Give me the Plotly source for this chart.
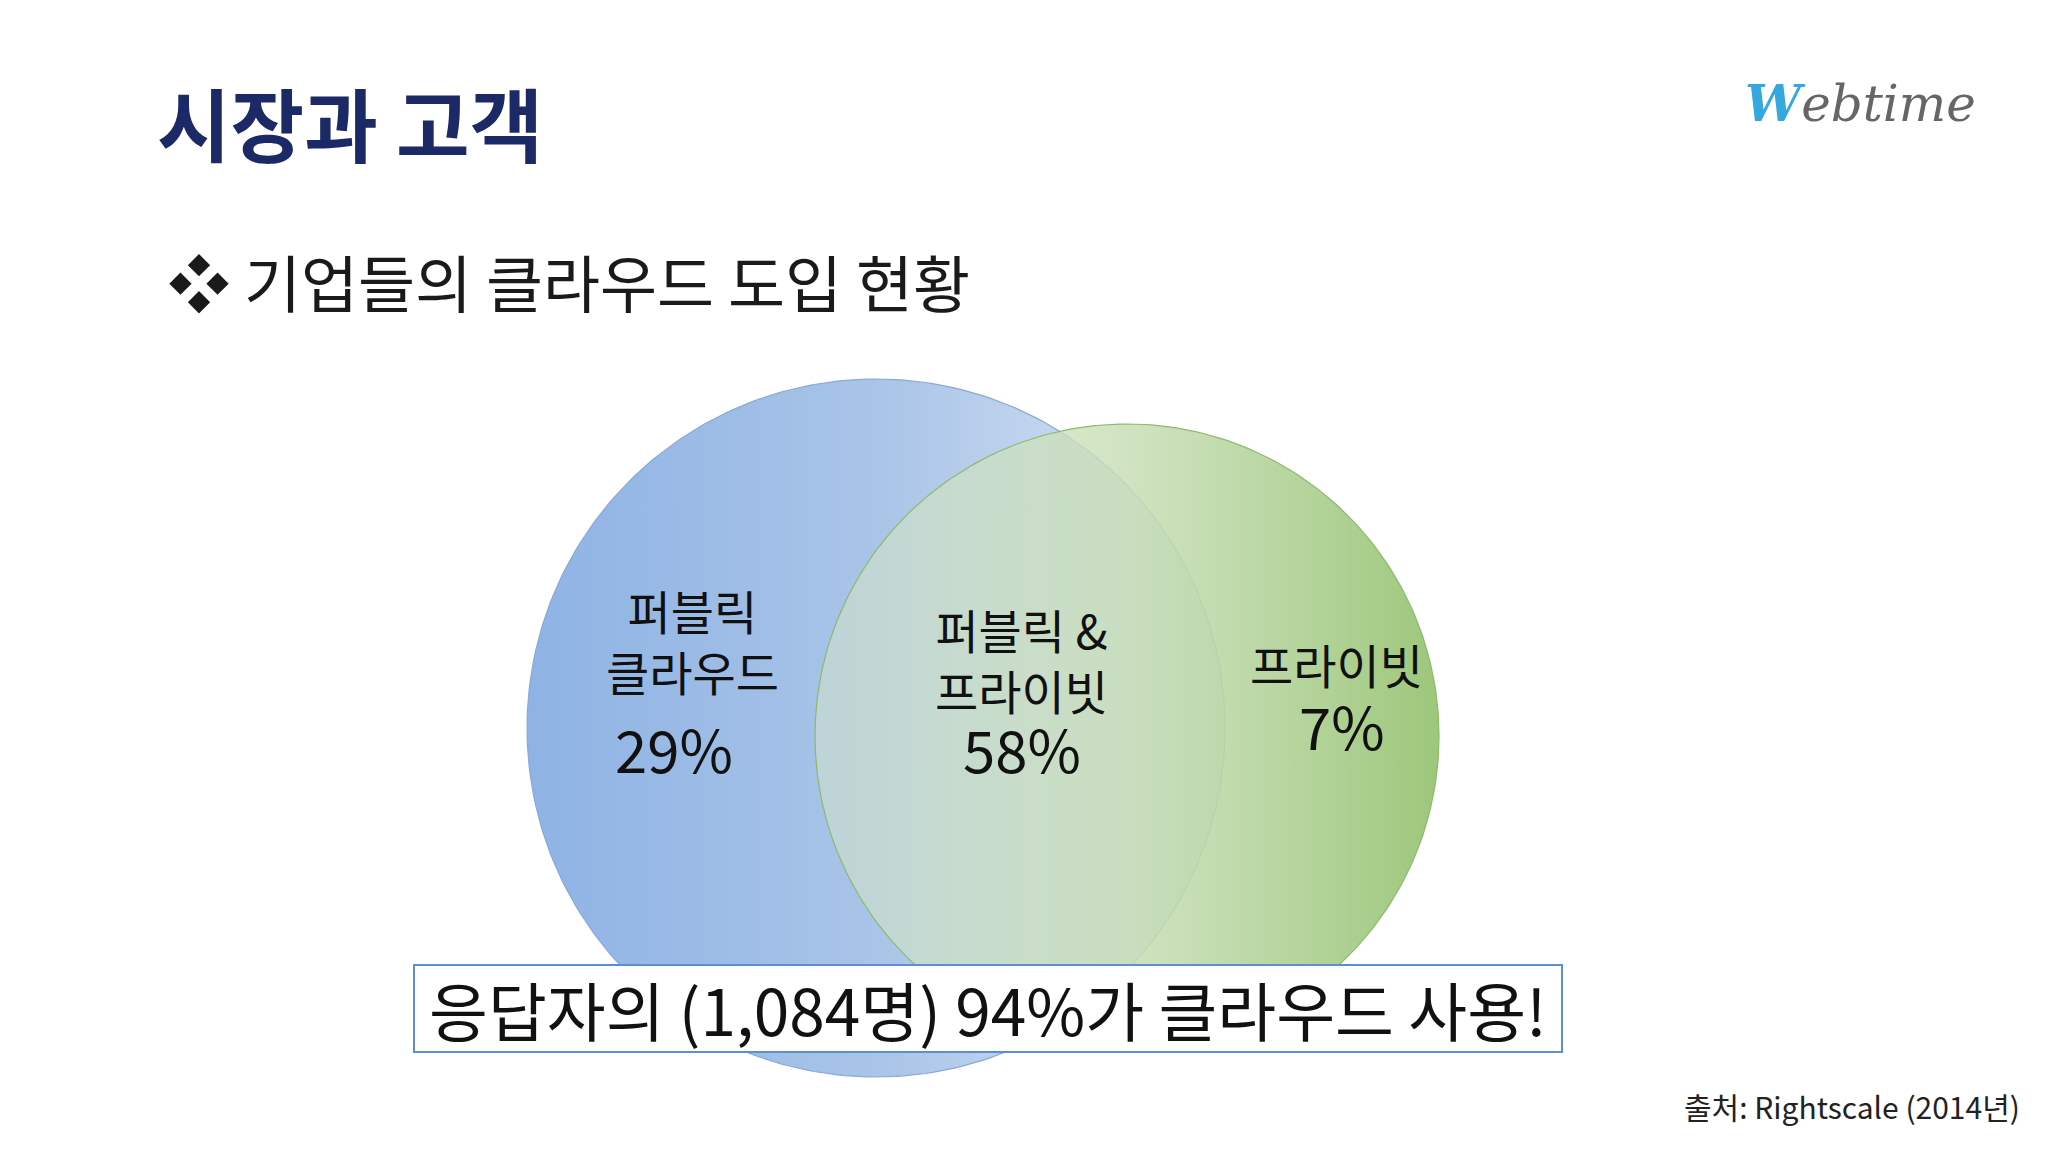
import numpy as np
import plotly.graph_objects as go

title = "시장과 고객"
subtitle = "❖ 기업들의 클라우드 도입 현황"
region_labels = ["퍼블릭<br>클라우드", "퍼블릭 &<br>프라이빗", "프라이빗"]
region_values = ["29%", "58%", "7%"]
summary = "응답자의 (1,084명) 94%가 클라우드 사용!"
source = "출처: Rightscale (2014년)"

W, H = 2048, 1152
KR = "Noto Sans CJK KR"

fig = go.Figure()

t = np.linspace(0, 2 * np.pi, 300)


def circle(cx, cy, r, colors, line):
    fig.add_trace(go.Scatter(
        x=cx + r * np.cos(t), y=cy + r * np.sin(t), mode="lines", fill="toself",
        line=dict(color=line, width=1.2),
        fillgradient=dict(type="horizontal", colorscale=colors),
        hoverinfo="skip", showlegend=False))


circle(868, 720, 349, [[0, "#8eb3e4"], [0.5, "#a9c4e8"], [1, "#dbe6f5"]], "#8aa9d6")
circle(1119, 728, 312, [[0, "rgba(214,230,200,0.5)"], [0.5, "rgba(200,222,182,0.85)"],
                         [1, "#9dc77b"]], "#8bbb6a")

fig.update_xaxes(range=[0, W], visible=False)
fig.update_yaxes(range=[H, 0], visible=False)

ann = [
    dict(x=147, y=113, text=f"<b>{title}</b>", size=80, color="#1b2a66", xanchor="left"),
    dict(x=158, y=273, text=subtitle, size=62, color="#1a1a1a", xanchor="left"),
    dict(x=684, y=632, text=region_labels[0], size=47, color="#111"),
    dict(x=1013, y=651, text=region_labels[1], size=47, color="#111"),
    dict(x=1328, y=655, text=region_labels[2], size=47, color="#111"),
    dict(x=666, y=740, text=region_values[0], size=58, color="#111"),
    dict(x=1014, y=740, text=region_values[1], size=58, color="#111"),
    dict(x=1334, y=717, text=region_values[2], size=58, color="#111"),
    dict(x=2014, y=1098, text=source, size=30, color="#222", xanchor="right"),
]
for a in ann:
    fig.add_annotation(x=a["x"], y=a["y"], text=a["text"], showarrow=False,
                       xanchor=a.get("xanchor", "center"), yanchor="middle",
                       font=dict(family=KR, size=a["size"], color=a["color"]))

fig.add_shape(type="rect", x0=406, y0=957, x1=1554, y1=1044,
              fillcolor="white", line=dict(color="#5b8fd0", width=2))
fig.add_annotation(x=980, y=1000, text=summary, showarrow=False,
                   font=dict(family=KR, size=64, color="#111"))

# logo
fig.add_annotation(x=1735, y=95, text="<b><i><span style='color:#35a8e0'>W</span></i></b>"
                   "<i>ebtime</i>", showarrow=False, xanchor="left",
                   font=dict(family="DejaVu Serif", size=50, color="#666"))

fig.update_layout(width=W, height=H, margin=dict(l=0, r=0, t=0, b=0),
                  plot_bgcolor="white", paper_bgcolor="white")
fig.write_html("out.html")
